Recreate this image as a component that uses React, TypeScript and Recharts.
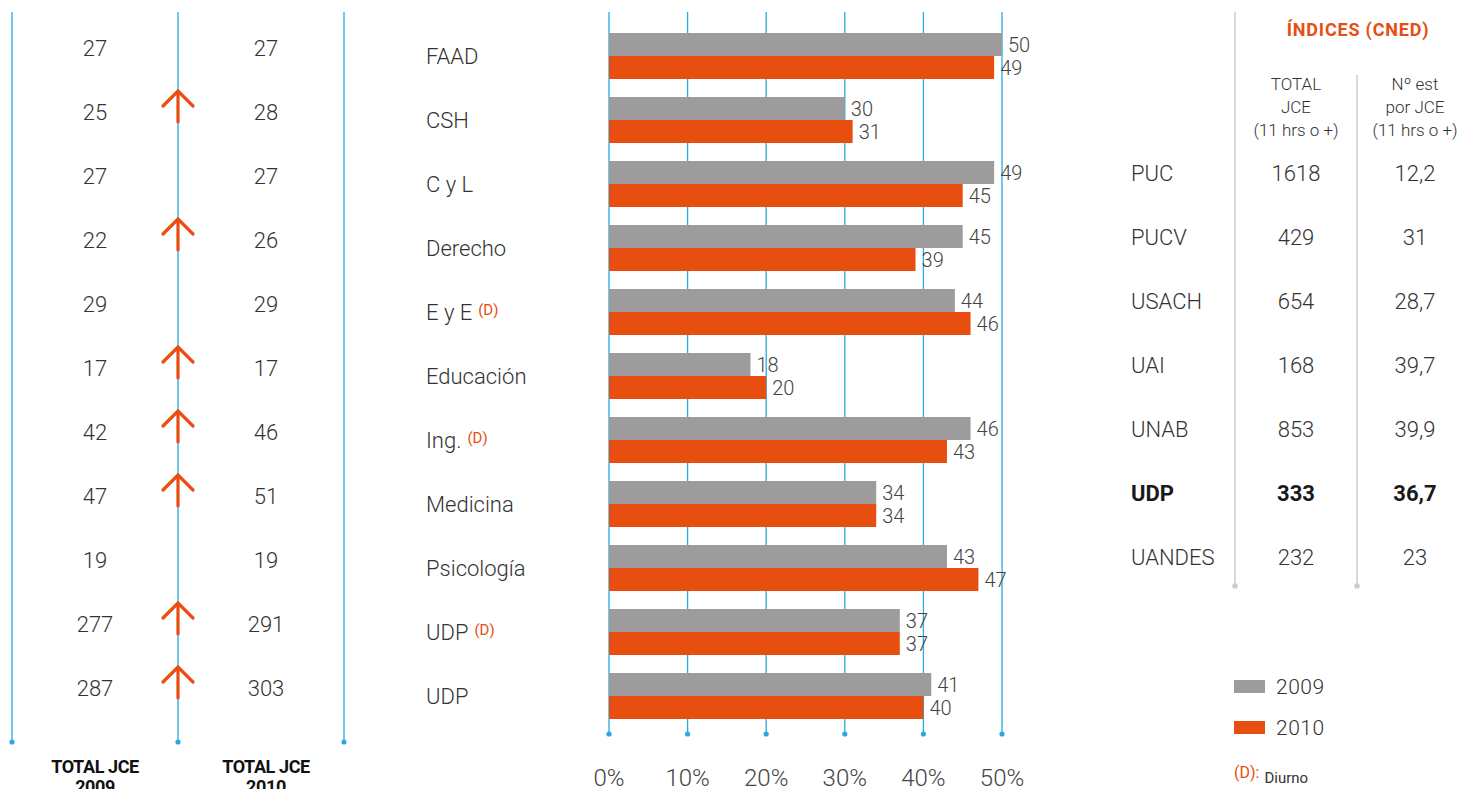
import React from 'react';
import {
  BarChart, Bar, XAxis, YAxis, CartesianGrid, LabelList, Legend,
  ScatterChart, Scatter, ReferenceLine, ReferenceDot,
} from 'recharts';

// ---------- data ----------
const categories = ['FAAD', 'CSH', 'C y L', 'Derecho', 'E y E', 'Educación', 'Ing.', 'Medicina', 'Psicología', 'UDP', 'UDP'];
const diurno = [false, false, false, false, true, false, true, false, false, true, false];
const pct2009 = [50, 30, 49, 45, 44, 18, 46, 34, 43, 37, 41];
const pct2010 = [49, 31, 45, 39, 46, 20, 43, 34, 47, 37, 40];
const pctTicks = [0, 10, 20, 30, 40, 50];
const seriesNames = ['2009', '2010'];

const jce2009 = [27, 25, 27, 22, 29, 17, 42, 47, 19, 277, 287];
const jce2010 = [27, 28, 27, 26, 29, 17, 46, 51, 19, 291, 303];
const jceUp = [false, true, false, true, false, true, true, true, false, true, true];
const jceFootTitle = 'TOTAL JCE';
const jceYears = ['2009', '2010'];

const institutions = ['PUC', 'PUCV', 'USACH', 'UAI', 'UNAB', 'UDP', 'UANDES'];
const totalJce = ['1618', '429', '654', '168', '853', '333', '232'];
const estPorJce = ['12,2', '31', '28,7', '39,7', '39,9', '36,7', '23'];
const highlighted = 'UDP';
const indicesTitle = 'ÍNDICES (CNED)';
const colTotalHead = ['TOTAL', 'JCE', '(11 hrs o +)'];
const colEstHead = ['Nº est', 'por JCE', '(11 hrs o +)'];
const noteKey = '(D):';
const noteText = 'Diurno';

// ---------- styles ----------
const BLUE = '#29a9e1';
const ORANGE = '#e84e10';
const GRAY = '#9d9b9b';
const LINE_GRAY = '#cdcdcd';
const TEXT = '#333333';
const FONT = "Roboto, 'Noto Sans', 'DejaVu Sans', sans-serif";

const barData = categories.map((c, i) => ({
  key: String(i),
  y2009: pct2009[i],
  y2010: pct2010[i],
}));

// left table layout (data-space columns)
const LEFT_COLS = [0.5, 1.53];
const leftValues = categories.flatMap((_, i) => [
  { x: LEFT_COLS[0], y: i, v: jce2009[i] },
  { x: LEFT_COLS[1], y: i, v: jce2010[i] },
]);
const arrowData = jceUp.map((up, i) => (up ? { x: 1, y: i } : null)).filter(Boolean) as { x: number; y: number }[];

// right table layout (data-space columns)
const R_NAME_X = 0.1475;
const R_COLS = [1.5, 2.475];
const R_TOP = -2.515625;
const R_BOTTOM = 6.453125;
const R_SUBHEAD_TOP = -1.53125;
const rightNames = institutions.map((n, i) => ({ x: R_NAME_X, y: i, v: n, b: n === highlighted }));
const rightTotal = institutions.map((n, i) => ({ x: R_COLS[0], y: i, v: totalJce[i], b: n === highlighted }));
const rightEst = institutions.map((n, i) => ({ x: R_COLS[1], y: i, v: estPorJce[i], b: n === highlighted }));

// ---------- custom renderers ----------
const CatTick = (props: any) => {
  const { x, y, payload } = props;
  const i = Number(payload.value);
  return (
    <text x={x - 183} y={y + 8} fontSize={22} fill={TEXT} fontFamily={FONT} fontWeight={300}>
      <tspan>{categories[i]}</tspan>
      {diurno[i] ? (
        <tspan dx={6} dy={-5} fontSize={15} fill={ORANGE} fontWeight={400}>(D)</tspan>
      ) : null}
    </text>
  );
};

const PctTick = (props: any) => {
  const { x, y, payload } = props;
  return (
    <g>
      <circle cx={x} cy={y} r={2.6} fill={BLUE} />
      <text x={x} y={y + 52} textAnchor="middle" fontSize={24} fill="#444" fontFamily={FONT} fontWeight={300}>
        {`${payload.value}%`}
      </text>
    </g>
  );
};

const LeftFootTick = (props: any) => {
  const { x, y, payload } = props;
  const v = payload.value;
  if (Number.isInteger(v)) {
    return <circle cx={x} cy={y} r={2.6} fill={BLUE} />;
  }
  const ci = v === LEFT_COLS[0] ? 0 : 1;
  return (
    <g fontFamily={FONT} fontWeight={700} fontSize={18} fill="#111" textAnchor="middle" letterSpacing={-0.4}>
      <text x={x} y={y + 31}>{jceFootTitle}</text>
      <text x={x} y={y + 51}>{jceYears[ci]}</text>
    </g>
  );
};

const ValueText = (props: any) => {
  const { cx, cy, payload } = props;
  return (
    <text x={cx} y={cy + 8} textAnchor="middle" fontSize={22} fill={TEXT} fontFamily={FONT} fontWeight={300}>
      {payload.v}
    </text>
  );
};

const Arrow = (props: any) => {
  const { cx, cy } = props;
  return (
    <path
      d={`M${cx},${cy + 10} L${cx},${cy - 21} M${cx - 15},${cy - 6} L${cx},${cy - 21} L${cx + 15},${cy - 6}`}
      stroke={ORANGE}
      strokeWidth={3.2}
      fill="none"
      strokeLinecap="round"
    />
  );
};

const makeRightText = (anchor: 'start' | 'middle') => (props: any) => {
  const { cx, cy, payload } = props;
  return (
    <text
      x={cx}
      y={cy + 8}
      textAnchor={anchor}
      fontSize={22}
      fill={payload.b ? '#1a1a1a' : TEXT}
      fontFamily={FONT}
      fontWeight={payload.b ? 700 : 300}
    >
      {payload.v}
    </text>
  );
};
const NameText = makeRightText('start');
const CellText = makeRightText('middle');

const LegendContent = (props: any) => {
  const payload = props.payload || [];
  return (
    <div style={{ fontFamily: FONT, position: 'relative', width: 200, height: 120 }}>
      {payload.map((p: any, i: number) => (
        <div key={i} style={{ display: 'flex', alignItems: 'center', height: 29, marginBottom: 12 }}>
          <div style={{ width: 31, height: 13, background: p.color, marginRight: 11 }} />
          <span style={{ fontSize: 21, fontWeight: 300, color: TEXT, letterSpacing: 0.5 }}>{p.value}</span>
        </div>
      ))}
      <div style={{ position: 'absolute', left: 0, top: 89, whiteSpace: 'nowrap', lineHeight: '24px' }}>
        <span style={{ color: ORANGE, fontSize: 16 }}>{noteKey}</span>
        <span style={{ color: TEXT, fontSize: 15, marginLeft: 5, position: 'relative', top: 5 }}>{noteText}</span>
      </div>
    </div>
  );
};

export default function App() {
  return (
    <div
      style={{
        position: 'absolute', left: 0, top: 0, width: 1473, height: 789,
        overflow: 'hidden', background: '#fff', fontFamily: FONT,
      }}
    >
      {/* Left table: TOTAL JCE 2009 / 2010 */}
      <div style={{ position: 'absolute', left: 0, top: 0 }}>
        <ScatterChart width={360} height={789} margin={{ top: 12, right: 16, bottom: 0, left: 12 }}>
          <XAxis
            type="number" dataKey="x" domain={[0, 2]} allowDataOverflow
            ticks={[0, LEFT_COLS[0], 1, LEFT_COLS[1], 2]} interval={0}
            height={47} axisLine={false} tickLine={false} tickSize={0} tickMargin={0}
            tick={<LeftFootTick />}
          />
          <YAxis type="number" dataKey="y" domain={[-0.5625, 10.84375]} allowDataOverflow reversed hide />
          <ReferenceLine x={0} stroke={BLUE} strokeWidth={1.3} ifOverflow="visible" />
          <ReferenceLine x={1} stroke={BLUE} strokeWidth={1.3} ifOverflow="visible" />
          <ReferenceLine x={2} stroke={BLUE} strokeWidth={1.3} ifOverflow="visible" />
          <Scatter data={leftValues} shape={ValueText} isAnimationActive={false} />
          <Scatter data={arrowData} shape={Arrow} isAnimationActive={false} />
        </ScatterChart>
      </div>

      {/* Center bar chart */}
      <div style={{ position: 'absolute', left: 400, top: 0 }}>
        <BarChart
          width={1073}
          height={789}
          data={barData}
          layout="vertical"
          margin={{ top: 12, right: 471, bottom: 0, left: 0 }}
          barGap={0}
          barCategoryGap={9}
        >
          <CartesianGrid vertical horizontal={false} stroke={BLUE} strokeWidth={1.3} />
          <XAxis
            type="number" domain={[0, 50]} ticks={pctTicks} interval={0} allowDataOverflow
            height={55} axisLine={false} tickLine={false} tickSize={0} tickMargin={0}
            tick={<PctTick />}
          />
          <YAxis
            type="category" dataKey="key" width={209} padding={{ top: 12, bottom: 6 }}
            axisLine={false} tickLine={false} tickSize={0} tickMargin={0} interval={0}
            tick={<CatTick />}
          />
          <Legend
            layout="vertical" align="center" verticalAlign="middle"
            wrapperStyle={{ position: 'absolute', left: 834, top: 672, width: 200, height: 120 }}
            content={<LegendContent />}
          />
          <Bar dataKey="y2009" name={seriesNames[0]} fill={GRAY} isAnimationActive={false}>
            <LabelList dataKey="y2009" position="right" offset={6} fill="#444" fontSize={20} fontFamily={FONT} fontWeight={300} />
          </Bar>
          <Bar dataKey="y2010" name={seriesNames[1]} fill={ORANGE} isAnimationActive={false}>
            <LabelList dataKey="y2010" position="right" offset={6} fill="#444" fontSize={20} fontFamily={FONT} fontWeight={300} />
          </Bar>
        </BarChart>
      </div>

      {/* Right table */}
      <div style={{ position: 'absolute', left: 1100, top: 0 }}>
        <ScatterChart width={373} height={789} margin={{ top: 12, right: 0, bottom: 203, left: 13 }}>
          <XAxis type="number" dataKey="x" domain={[0, 360 / 122]} allowDataOverflow hide />
          <YAxis type="number" dataKey="y" domain={[R_TOP, R_BOTTOM]} allowDataOverflow reversed hide />
          <ReferenceLine x={1} stroke={LINE_GRAY} strokeWidth={1.5} ifOverflow="visible" />
          <ReferenceLine
            segment={[{ x: 2, y: R_SUBHEAD_TOP }, { x: 2, y: R_BOTTOM }]}
            stroke={LINE_GRAY} strokeWidth={1.5} ifOverflow="visible"
          />
          <ReferenceDot x={1} y={R_BOTTOM} r={2.8} fill={LINE_GRAY} stroke="none" ifOverflow="visible" />
          <ReferenceDot x={2} y={R_BOTTOM} r={2.8} fill={LINE_GRAY} stroke="none" ifOverflow="visible" />
          <Scatter data={rightNames} shape={NameText} isAnimationActive={false} />
          <Scatter data={rightTotal} shape={CellText} isAnimationActive={false} />
          <Scatter data={rightEst} shape={CellText} isAnimationActive={false} />
        </ScatterChart>
      </div>

      {/* Right table headers */}
      <div
        style={{
          position: 'absolute', left: 1258, top: 18, width: 200, textAlign: 'center',
          color: ORANGE, fontWeight: 700, fontSize: 18, lineHeight: '24px', letterSpacing: 0.8,
        }}
      >
        {indicesTitle}
      </div>
      {[colTotalHead, colEstHead].map((lines, ci) => (
        <div
          key={ci}
          style={{
            position: 'absolute', left: (ci === 0 ? 1296 : 1415) - 80, top: 73, width: 160,
            textAlign: 'center', color: TEXT, fontWeight: 300, fontSize: 17, lineHeight: '23px',
          }}
        >
          {lines.map((l, j) => (
            <div key={j}>{l}</div>
          ))}
        </div>
      ))}
    </div>
  );
}
